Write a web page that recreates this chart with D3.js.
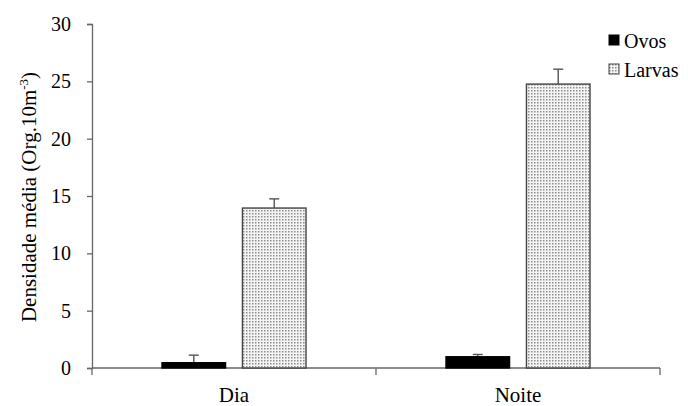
<!DOCTYPE html>
<html>
<head>
<style>
    body { margin: 0; background: #fff; }
</style>
</head>
<body>
<svg id="chart" width="688" height="406"></svg>
<script src="https://cdn.jsdelivr.net/npm/d3@7"></script>
<script>
    // data
    let periods = ["Dia", "Noite"]
    let groups = ["Ovos", "Larvas"]
    let ovos = [0.46, 0.98]
    let ovosErr = [0.66, 0.2]
    let larvas = [13.95, 24.76]
    let larvasErr = [0.8, 1.3]
    let yTicks = [0, 5, 10, 15, 20, 25, 30]

    let serif = "'Liberation Serif', 'DejaVu Serif', serif"
    let svg = d3.select("#chart").style("font-family", serif)

    // dotted fill for Larvas
    let defs = svg.append("defs")
    let pat = defs.append("pattern")
        .attr("id", "dots")
        .attr("width", 3).attr("height", 3)
        .attr("patternUnits", "userSpaceOnUse")
    pat.append("rect").attr("width", 3).attr("height", 3).attr("fill", "#f4f4f4")
    pat.append("rect").attr("width", 1.5).attr("height", 1.5).attr("fill", "#8f8f8f")

    let mLeft = 92, mRight = 660, mTop = 24, mBottom = 368

    let x = d3.scaleBand().domain(periods).range([mLeft, mRight])
    let sub = d3.scaleBand().domain(groups).range([0, 144]).paddingInner(0.21)
    let y = d3.scaleLinear().domain([0, 30]).range([mBottom, mTop])

    let rows = periods.map((p, i) => [
        { period: p, group: "Ovos", value: ovos[i], err: ovosErr[i] },
        { period: p, group: "Larvas", value: larvas[i], err: larvasErr[i] }
    ]).flat()

    // y axis
    let yAxis = svg.append("g")
        .attr("transform", `translate(${mLeft},0)`)
        .call(d3.axisLeft(y).tickValues(yTicks).tickSize(5).tickPadding(16))
    yAxis.attr("font-family", null).attr("font-size", null)
    yAxis.select(".domain").attr("stroke", "#666").attr("stroke-width", 1.3)
    yAxis.selectAll(".tick line").attr("stroke", "#666").attr("stroke-width", 1.3)
    yAxis.selectAll("text").style("font-size", "20px").style("font-family", serif).attr("fill", "#000")

    // x axis, ticks at category boundaries
    let xg = svg.append("g").attr("transform", `translate(0,${mBottom})`)
    xg.append("line").attr("x1", x.range()[0]).attr("x2", x.range()[1])
        .attr("stroke", "#666").attr("stroke-width", 1.3)
    let bounds = [x(periods[0]), x(periods[1]), x(periods[1]) + x.bandwidth()]
    xg.selectAll(".xt").data(bounds).enter().append("line")
        .attr("x1", d => d).attr("x2", d => d)
        .attr("y1", 0).attr("y2", 7)
        .attr("stroke", "#666").attr("stroke-width", 1.3)
    xg.selectAll(".xl").data(periods).enter().append("text")
        .attr("x", d => x(d) + x.bandwidth() / 2)
        .attr("y", 34)
        .attr("text-anchor", "middle")
        .style("font-size", "21px").style("font-family", serif)
        .text(d => d)

    let bx = d => x(d.period) + x.bandwidth() / 2 - 72 + sub(d.group)

    // error bars
    let eb = svg.append("g").selectAll("g").data(rows).enter().append("g")
    eb.append("line")
        .attr("x1", d => bx(d) + sub.bandwidth() / 2).attr("x2", d => bx(d) + sub.bandwidth() / 2)
        .attr("y1", d => y(d.value)).attr("y2", d => y(d.value + d.err))
        .attr("stroke", "#555").attr("stroke-width", 1.4)
    eb.append("line")
        .attr("x1", d => bx(d) + sub.bandwidth() / 2 - 5).attr("x2", d => bx(d) + sub.bandwidth() / 2 + 5)
        .attr("y1", d => y(d.value + d.err)).attr("y2", d => y(d.value + d.err))
        .attr("stroke", "#555").attr("stroke-width", 1.4)

    // bars
    svg.append("g").selectAll("rect").data(rows).enter().append("rect")
        .attr("x", d => bx(d))
        .attr("y", d => y(d.value))
        .attr("width", sub.bandwidth())
        .attr("height", d => mBottom - y(d.value))
        .attr("fill", d => d.group == "Ovos" ? "#000" : "url(#dots)")
        .attr("stroke", d => d.group == "Ovos" ? "#000" : "#444")
        .attr("stroke-width", 1.4)

    // legend
    let leg = svg.append("g").selectAll("g").data(groups).enter().append("g")
        .attr("transform", (d, i) => `translate(609,${35 + i * 29})`)
    leg.append("rect")
        .attr("width", 10).attr("height", 10)
        .attr("fill", d => d == "Ovos" ? "#000" : "url(#dots)")
        .attr("stroke", d => d == "Ovos" ? "#000" : "#444")
    leg.append("text")
        .attr("x", 15).attr("y", 13)
        .style("font-size", "20px").style("font-family", serif)
        .text(d => d)

    // y title
    let yt = svg.append("text")
        .attr("transform", "translate(36,197) rotate(-90)")
        .attr("text-anchor", "middle")
        .style("font-size", "21px").style("font-family", serif)
    yt.append("tspan").text("Densidade média (Org.10m")
    yt.append("tspan").attr("dy", -8).style("font-size", "13px").text("-3")
    yt.append("tspan").attr("dy", 8).text(")")
</script>
</body>
</html>
